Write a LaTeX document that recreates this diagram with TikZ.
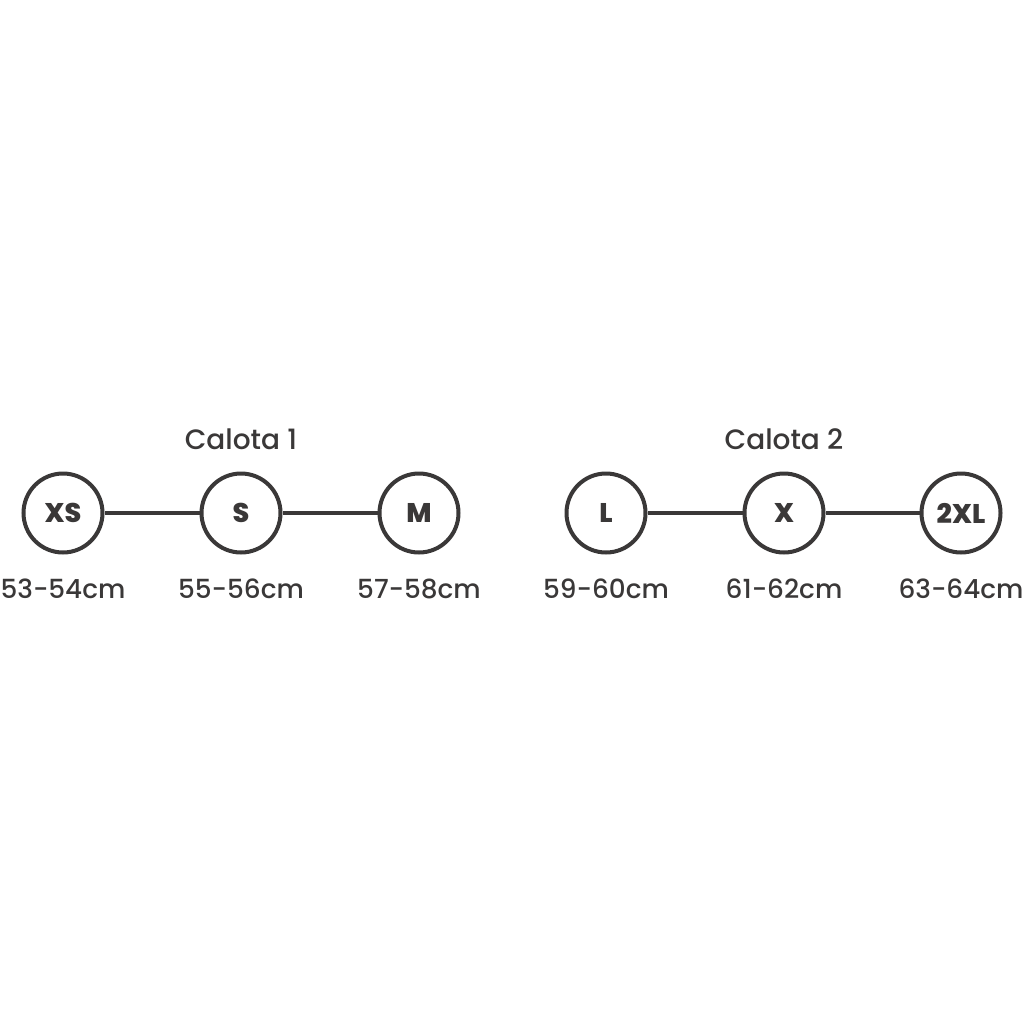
\documentclass[tikz,border=0pt]{standalone}
\usepackage{fontspec}
\setmainfont{Poppins}
\IfFontExistsTF{Poppins Medium}{\newfontfamily\medfont{Poppins Medium}}{\newfontfamily\medfont{Poppins}[FakeBold=0.6]}
\IfFontExistsTF{Poppins ExtraBold}{\newfontfamily\heavyfont{Poppins ExtraBold}}{\newfontfamily\heavyfont{Poppins Bold}[FakeBold=0.8]}
\definecolor{ink}{HTML}{3A3838}
\begin{document}
\begin{tikzpicture}[x=1pt,y=-1pt,
  size/.style={circle,draw=ink,line width=4pt,minimum size=79pt,inner sep=0pt,text=ink,font=\heavyfont\fontsize{27}{27}\selectfont},
  meas/.style={text=ink,font=\medfont\fontsize{26.3}{26.3}\selectfont,anchor=base,inner sep=0pt},
  title/.style={text=ink,font=\medfont\fontsize{28}{28}\selectfont,anchor=base},
  link/.style={draw=ink,line width=4pt}]
\useasboundingbox (0,0) rectangle (1024,1024);
\node[size] (xs) at (63,513) {XS};
\node[size] (s) at (241,513) {S};
\node[size] (m) at (419,513) {M};
\node[size] (l) at (606,513) {L};
\node[size] (x) at (784,513) {X};
\node[size] (xxl) at (961,513) {2XL};
\draw[link] (xs) -- (s);
\draw[link] (s) -- (m);
\draw[link] (l) -- (x);
\draw[link] (x) -- (xxl);
\node[title] (t1) at (241,449) {Calota 1};
\node[title] (t2) at (784,449) {Calota 2};
\node[meas] (m1) at (63,598) {53-54cm};
\node[meas] (m2) at (241,598) {55-56cm};
\node[meas] (m3) at (419,598) {57-58cm};
\node[meas] (m4) at (606,598) {59-60cm};
\node[meas] (m5) at (784,598) {61-62cm};
\node[meas] (m6) at (961,598) {63-64cm};
\end{tikzpicture}
\end{document}
